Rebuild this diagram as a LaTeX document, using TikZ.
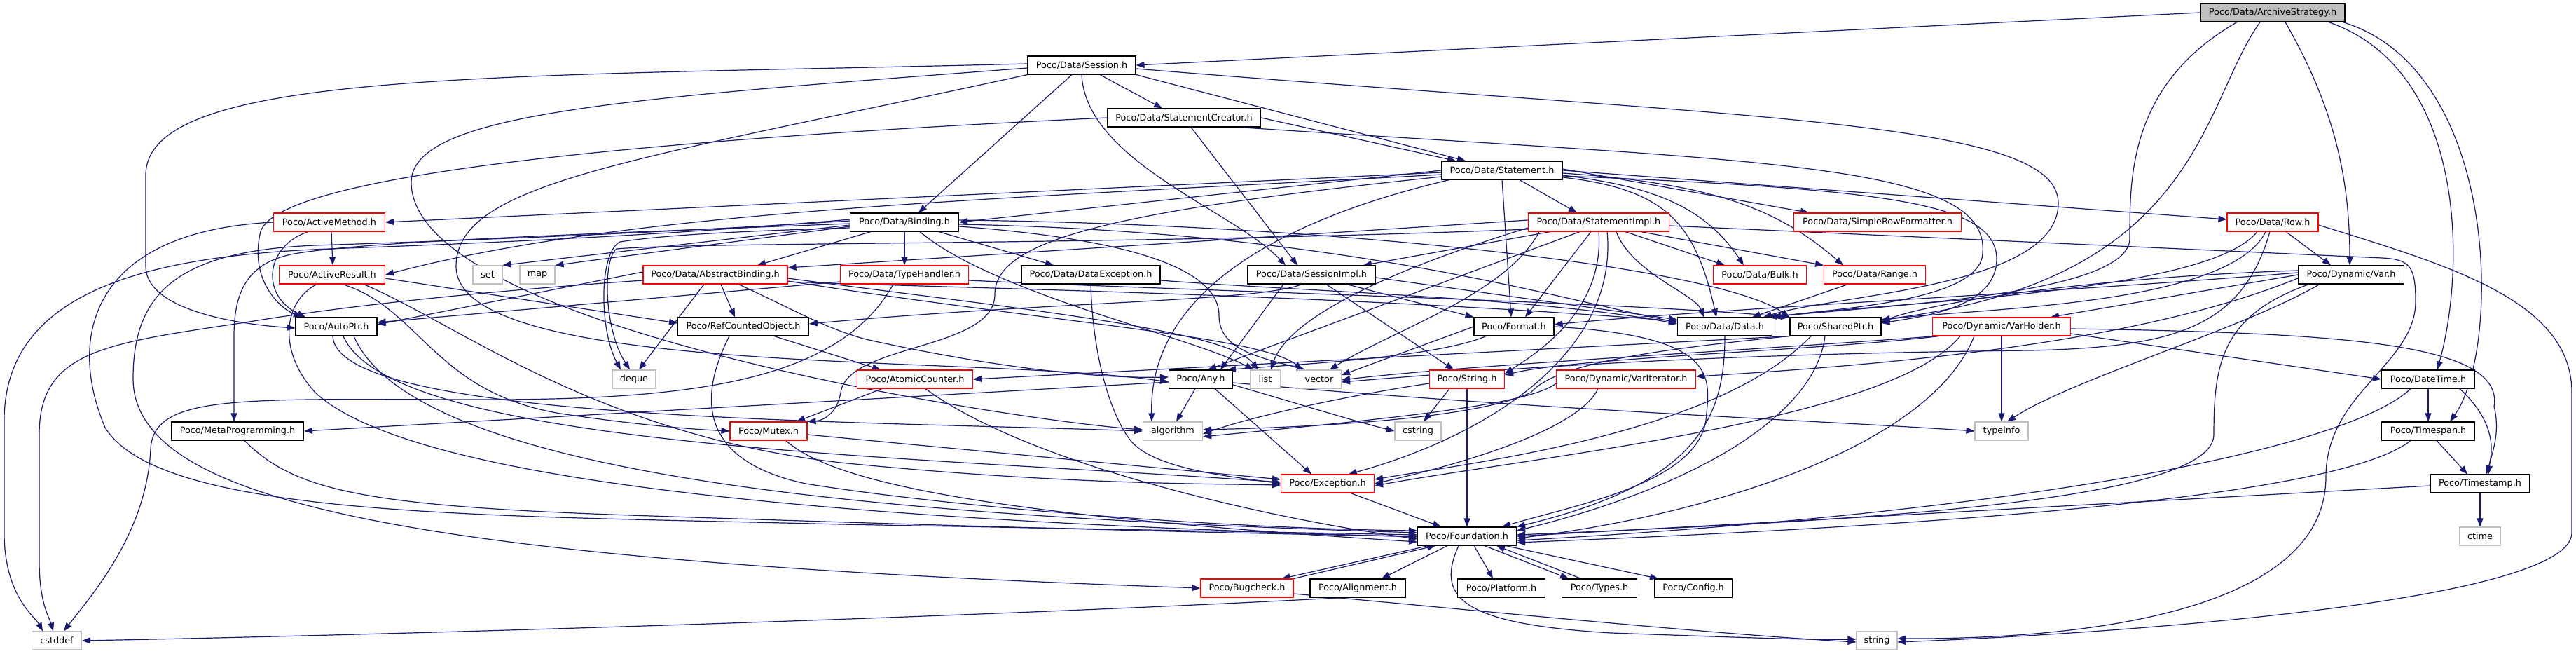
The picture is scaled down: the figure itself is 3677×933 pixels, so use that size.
\documentclass[tikz,border=0pt]{standalone}
\usepackage{fontspec}
\setmainfont{DejaVu Sans}
\usetikzlibrary{arrows.meta}
\definecolor{edgec}{HTML}{191970}
\definecolor{grayb}{HTML}{BFBFBF}
\pgfdeclarelayer{bg}
\pgfdeclarelayer{edges}
\pgfsetlayers{bg,edges,main}
\tikzset{
  nodebase/.style={fill=white, line width=1.1pt, minimum height=26pt, inner sep=0pt, anchor=center,
    font=\fontsize{12.8pt}{15pt}\selectfont},
  bbox/.style={nodebase, draw=black},
  rbox/.style={nodebase, draw=red},
  gbox/.style={nodebase, draw=grayb},
  rootbox/.style={nodebase, draw=black, fill=grayb},
  edg/.style={draw=edgec, line width=1.2pt, -{Triangle[length=12pt,width=9pt]}}
}
\begin{document}
\begin{tikzpicture}[x=1pt,y=1pt]
\begin{pgfonlayer}{bg}
\fill[white] (0,0) rectangle (3677,-933);
\end{pgfonlayer}
\useasboundingbox (0,0) rectangle (3677,-933);
% nodes
\node[rootbox, minimum width=206pt] (as) at (3244,-18) {Poco/Data/ArchiveStrategy.h};
\node[bbox, minimum width=154pt] (session) at (1544,-93) {Poco/Data/Session.h};
\node[bbox, minimum width=219pt] (stcreator) at (1690,-168) {Poco/Data/StatementCreator.h};
\node[bbox, minimum width=172pt] (statement) at (2144,-243) {Poco/Data/Statement.h};
\node[rbox, minimum width=159pt] (actmethod) at (470,-317) {Poco/ActiveMethod.h};
\node[bbox, minimum width=155pt] (binding) at (1291,-317) {Poco/Data/Binding.h};
\node[rbox, minimum width=201pt] (stimpl) at (2282,-317) {Poco/Data/StatementImpl.h};
\node[rbox, minimum width=239pt] (srf) at (2680,-317) {Poco/Data/SimpleRowFormatter.h};
\node[rbox, minimum width=130pt] (row) at (3244,-317) {Poco/Data/Row.h};
\node[rbox, minimum width=151pt] (actresult) at (474,-392) {Poco/ActiveResult.h};
\node[gbox, minimum width=42pt] (set) at (696,-392) {set};
\node[gbox, minimum width=50pt] (map) at (767,-392) {map};
\node[rbox, minimum width=206pt] (absbind) at (1021,-392) {Poco/Data/AbstractBinding.h};
\node[rbox, minimum width=183pt] (typehandler) at (1291,-392) {Poco/Data/TypeHandler.h};
\node[bbox, minimum width=198pt] (dataexc) at (1557,-392) {Poco/Data/DataException.h};
\node[bbox, minimum width=183pt] (sessimpl) at (1872,-392) {Poco/Data/SessionImpl.h};
\node[rbox, minimum width=133pt] (bulk) at (2512,-392) {Poco/Data/Bulk.h};
\node[rbox, minimum width=145pt] (range) at (2676,-392) {Poco/Data/Range.h};
\node[bbox, minimum width=151pt] (var) at (3356,-392) {Poco/Dynamic/Var.h};
\node[bbox, minimum width=116pt] (autoptr) at (480,-466) {Poco/AutoPtr.h};
\node[bbox, minimum width=187pt] (refcounted) at (1061,-466) {Poco/RefCountedObject.h};
\node[bbox, minimum width=114pt] (format) at (2161,-466) {Poco/Format.h};
\node[bbox, minimum width=135pt] (data) at (2462,-466) {Poco/Data/Data.h};
\node[bbox, minimum width=130pt] (sharedptr) at (2620,-466) {Poco/SharedPtr.h};
\node[rbox, minimum width=197pt] (varholder) at (2857,-466) {Poco/Dynamic/VarHolder.h};
\node[gbox, minimum width=62pt] (deque) at (905,-541) {deque};
\node[rbox, minimum width=165pt] (atomic) at (1306,-541) {Poco/AtomicCounter.h};
\node[bbox, minimum width=91pt] (any) at (1714,-541) {Poco/Any.h};
\node[gbox, minimum width=43pt] (list) at (1806,-541) {list};
\node[gbox, minimum width=63pt] (vector) at (1883,-541) {vector};
\node[rbox, minimum width=107pt] (strh) at (2094,-541) {Poco/String.h};
\node[rbox, minimum width=199pt] (variter) at (2321,-541) {Poco/Dynamic/VarIterator.h};
\node[bbox, minimum width=133pt] (datetime) at (3466,-541) {Poco/DateTime.h};
\node[bbox, minimum width=189pt] (meta) at (339,-615) {Poco/MetaProgramming.h};
\node[rbox, minimum width=110pt] (mutex) at (1097,-615) {Poco/Mutex.h};
\node[gbox, minimum width=85pt] (algorithm) at (1674,-615) {algorithm};
\node[gbox, minimum width=66pt] (cstring) at (2024,-615) {cstring};
\node[gbox, minimum width=76pt] (typeinfo) at (2857,-615) {typeinfo};
\node[bbox, minimum width=133pt] (timespan) at (3466,-615) {Poco/Timespan.h};
\node[rbox, minimum width=133pt] (exception) at (1895,-690) {Poco/Exception.h};
\node[bbox, minimum width=142pt] (timestamp) at (3540,-690) {Poco/Timestamp.h};
\node[bbox, minimum width=141pt] (foundation) at (2094,-765) {Poco/Foundation.h};
\node[gbox, minimum width=59pt] (ctime) at (3540,-765) {ctime};
\node[rbox, minimum width=132pt] (bugcheck) at (1780,-839) {Poco/Bugcheck.h};
\node[bbox, minimum width=136pt] (alignment) at (1938,-839) {Poco/Alignment.h};
\node[bbox, minimum width=125pt] (platform) at (2143,-839) {Poco/Platform.h};
\node[bbox, minimum width=107pt] (types) at (2283,-839) {Poco/Types.h};
\node[bbox, minimum width=111pt] (config) at (2417,-839) {Poco/Config.h};
\node[gbox, minimum width=71pt] (cstddef) at (81,-914) {cstddef};
\node[gbox, minimum width=58pt] (stringstd) at (2679,-914) {string};

\begin{pgfonlayer}{edges}
% ArchiveStrategy
\draw[edg] (as.west) -- (session.east);
\draw[edg] ([xshift=-51pt]as.south) .. controls (3040,-120) and (3040,-250) .. (3040,-340) .. controls (3040,-420) and (2700,-435) .. ([xshift=62pt]data.north);
\draw[edg] ([xshift=-18pt]as.south) .. controls (3141,-150) and (3141,-400) .. ([yshift=10pt]sharedptr.east);
\draw[edg] ([xshift=18pt]as.south) .. controls (3330,-150) and (3354,-250) .. ([xshift=-2pt]var.north);
\draw[edg] ([xshift=80pt]as.south) .. controls (3520,-100) and (3520,-380) .. ([xshift=13pt]datetime.north);
\draw[edg] ([xshift=100pt]as.south) .. controls (3570,-100) and (3570,-500) .. ([xshift=31pt]timespan.north);
% Session
\draw[edg] ([yshift=2pt]session.west) .. controls (700,-110) and (208,-100) .. (208,-250) -- (208,-380) .. controls (208,-440) and (330,-462) .. ([yshift=-2pt]autoptr.west);
\draw[edg] ([yshift=-4pt]session.west) .. controls (900,-140) and (587,-160) .. (587,-260) .. controls (587,-470) and (1450,-600) .. ([yshift=2pt]algorithm.west);
\draw[edg] (session.south west) .. controls (900,-230) and (651,-260) .. (651,-380) .. controls (651,-540) and (1400,-505) .. ([yshift=-4pt]any.west);
\draw[edg] ([xshift=-14pt]session.south) -- ([xshift=20pt]binding.north);
\draw[edg] (session.south) .. controls (1550,-230) and (1760,-300) .. ([xshift=-37pt]sessimpl.north);
\draw[edg] ([xshift=26pt]session.south) -- ([xshift=-31pt]stcreator.north);
\draw[edg] (session.south east) -- ([xshift=-52pt]statement.north);
\draw[edg] ([yshift=-5pt]session.east) .. controls (2500,-170) and (2938,-170) .. (2938,-290) .. controls (2938,-410) and (2620,-420) .. ([xshift=55pt]data.north);
% StatementCreator
\draw[edg] (stcreator.west) .. controls (900,-200) and (400,-250) .. (372,-330) .. controls (355,-400) and (400,-440) .. ([xshift=-49pt]autoptr.north);
\draw[edg] ([xshift=10pt]stcreator.south) -- ([xshift=-20pt]sessimpl.north);
\draw[edg] (stcreator.east) -- ([xshift=-66pt]statement.north);
\draw[edg] ([xshift=78pt]stcreator.south) .. controls (2500,-230) and (2840,-230) .. (2830,-360) .. controls (2830,-430) and (2620,-440) .. (data.north east);
% Statement
\draw[edg] (statement.west) -- (binding.east);
\draw[edg] ([yshift=-3pt]statement.west) -- (actmethod.east);
\draw[edg] ([yshift=-6pt]statement.west) .. controls (1400,-285) and (900,-300) .. (actresult.east);
\draw[edg] ([yshift=-9pt]statement.west) .. controls (1600,-300) and (1420,-340) .. (1420,-420) .. controls (1420,-500) and (1210,-490) .. (1200,-560) .. controls (1195,-590) and (1175,-600) .. (mutex.north east);
\draw[edg] ([xshift=-75pt]statement.south) .. controls (1800,-320) and (1640,-430) .. ([xshift=-30pt]algorithm.north);
\draw[edg] (statement.south) -- ([xshift=-4pt]format.north);
\draw[edg] ([xshift=25pt]statement.south) -- ([xshift=-31pt]stimpl.north);
\draw[edg] ([yshift=2pt]statement.east) -- ([xshift=-98pt]srf.north);
\draw[edg] (statement.east) -- ([yshift=4pt]row.west);
\draw[edg] ([yshift=-4pt]statement.east) .. controls (2450,-262) and (2540,-300) .. ([xshift=-45pt]range.north);
\draw[edg] ([yshift=-7pt]statement.east) .. controls (2350,-265) and (2430,-290) .. ([xshift=-23pt]bulk.north);
\draw[edg] ([yshift=-10pt]statement.east) .. controls (2380,-270) and (2420,-320) .. ([xshift=-12pt]data.north);
\draw[edg] ([yshift=-8pt]statement.east) .. controls (2700,-270) and (2850,-290) .. (2850,-370) .. controls (2850,-440) and (2740,-452) .. ([yshift=5pt]sharedptr.east);
% ActiveMethod
\draw[edg] ([xshift=3pt]actmethod.south) -- ([xshift=1pt]actresult.north);
\draw[edg] ([xshift=-30pt]actmethod.south) .. controls (380,-350) and (370,-420) .. ([xshift=-44pt]autoptr.north);
\draw[edg] (actmethod.west) .. controls (130,-330) and (95,-480) .. (150,-610) .. controls (230,-740) and (700,-735) .. (1200,-748) -- ([yshift=2pt]foundation.west);
% ActiveResult
\draw[edg] ([xshift=-22pt]actresult.south) .. controls (405,-430) and (395,-500) .. (450,-560) .. controls (600,-700) and (1300,-745) .. ([yshift=-1pt]foundation.west);
\draw[edg] ([xshift=15pt]actresult.south) .. controls (600,-440) and (620,-560) .. (800,-590) .. controls (900,-605) and (980,-612) .. (mutex.west);
\draw[edg] ([xshift=45pt]actresult.south) .. controls (650,-460) and (850,-620) .. (1200,-660) .. controls (1500,-690) and (1700,-690) .. ([yshift=-2pt]exception.west);
\draw[edg] ([yshift=-5pt]actresult.east) -- ([yshift=5pt]refcounted.west);
% Binding
\draw[edg] ([xshift=-48pt]binding.south) -- ([xshift=60pt]absbind.north);
\draw[edg] (binding.south) -- (typehandler.north);
\draw[edg] ([xshift=49pt]binding.south) -- ([xshift=-53pt]dataexc.north);
\draw[edg] ([xshift=22pt]binding.south) .. controls (1420,-420) and (1700,-480) .. ([xshift=-17pt]list.north);
\draw[edg] ([yshift=-6pt]binding.east) .. controls (1600,-340) and (1740,-380) .. (1740,-450) .. controls (1740,-500) and (1800,-510) .. ([xshift=-20pt]vector.north);
\draw[edg] ([yshift=-3pt]binding.east) .. controls (1900,-330) and (2200,-420) .. ([yshift=6pt]data.west);
\draw[edg] ([yshift=3pt]binding.east) .. controls (1900,-320) and (2450,-380) .. (sharedptr.north west);
\draw[edg] ([yshift=-2pt]binding.west) .. controls (800,-335) and (520,-345) .. (420,-362) .. controls (350,-375) and (334,-420) .. (334,-480) -- ([xshift=-5pt]meta.north);
\draw[edg] ([yshift=2pt]binding.west) .. controls (900,-335) and (600,-345) .. (450,-350) .. controls (250,-358) and (190,-420) .. (190,-540) .. controls (190,-720) and (600,-800) .. (bugcheck.west);
\draw[edg] ([yshift=4pt]binding.west) .. controls (900,-340) and (600,-350) .. (470,-355) .. controls (200,-365) and (6,-420) .. (6,-600) -- (6,-760) .. controls (6,-850) and (50,-880) .. ([xshift=-20pt]cstddef.north);
\draw[edg] ([yshift=-8pt]binding.west) .. controls (1050,-330) and (950,-335) .. (885,-345) .. controls (855,-360) and (855,-470) .. ([xshift=-19pt]deque.north);
\draw[edg] ([yshift=-4pt]binding.west) -- (set.north east);
\draw[edg] ([yshift=-6pt]binding.west) -- (map.north east);
% StatementImpl
\draw[edg] ([xshift=-69pt]stimpl.south) -- ([xshift=74pt]sessimpl.north);
\draw[edg] ([xshift=-27pt]stimpl.south) -- ([xshift=10pt]any.north);
\draw[edg] ([xshift=-11pt]stimpl.south) -- ([xshift=16pt]format.north);
\draw[edg] (stimpl.south) .. controls (2290,-440) and (2200,-500) .. ([yshift=8pt]strh.east);
\draw[edg] ([xshift=12pt]stimpl.south) .. controls (2310,-500) and (2130,-620) .. ([xshift=30pt]exception.north);
\draw[edg] ([xshift=25pt]stimpl.south) .. controls (2330,-390) and (2420,-420) .. ([xshift=-30pt]data.north);
\draw[edg] ([xshift=38pt]stimpl.south) -- ([xshift=-50pt]bulk.north);
\draw[edg] ([xshift=60pt]stimpl.south) -- ([xshift=-73pt]range.north);
\draw[edg] ([yshift=3pt]stimpl.west) -- ([yshift=10pt]absbind.east);
\draw[edg] ([yshift=-10pt]stimpl.west) .. controls (1600,-350) and (1000,-345) .. (880,-355) .. controls (860,-370) and (862,-470) .. ([xshift=-6pt]deque.north);
\draw[edg] ([yshift=-8pt]stimpl.west) .. controls (2000,-380) and (1840,-450) .. ([xshift=8pt]list.north);
\draw[edg] ([xshift=-85pt]stimpl.south) .. controls (2150,-420) and (1990,-470) .. ([xshift=15pt]vector.north);
\draw[edg] ([yshift=-5pt]stimpl.east) -- (3400,-368) .. controls (3440,-370) and (3448,-380) .. (3448,-430) .. controls (3448,-520) and (3320,-560) .. (3320,-680) .. controls (3320,-880) and (2950,-912) .. ([yshift=3pt]stringstd.east);
% Row
\draw[edg] ([xshift=19pt]row.south) -- ([xshift=-29pt]var.north);
\draw[edg] ([xshift=-22pt]row.south) .. controls (3150,-420) and (2700,-430) .. (data.north east);
\draw[edg] ([xshift=-10pt]row.south) .. controls (3180,-440) and (2800,-440) .. ([yshift=9pt]sharedptr.east);
\draw[edg] ([xshift=-4pt]row.south) .. controls (3200,-470) and (3100,-495) .. (2900,-500) .. controls (2400,-505) and (2100,-530) .. ([yshift=-4pt]vector.east);
\draw[edg] ([yshift=-4pt]row.east) .. controls (3500,-380) and (3671,-430) .. (3671,-560) -- (3671,-760) .. controls (3671,-860) and (3000,-905) .. ([yshift=-2pt]stringstd.east);
% AbstractBinding
\draw[edg] ([xshift=-16pt]absbind.south) -- ([xshift=7pt]deque.north);
\draw[edg] ([xshift=8pt]absbind.south) -- ([xshift=-12pt]refcounted.north);
\draw[edg] ([xshift=33pt]absbind.south) .. controls (1130,-440) and (1180,-470) .. (1240,-485) .. controls (1400,-520) and (1550,-540) .. ([yshift=3pt]any.west);
\draw[edg] ([yshift=4pt]absbind.west) -- ([yshift=3pt]autoptr.east);
\draw[edg] ([yshift=-5pt]absbind.east) .. controls (1450,-440) and (1750,-470) .. ([xshift=-10pt]list.north);
\draw[edg] ([yshift=-9pt]absbind.east) .. controls (1500,-460) and (1800,-480) .. ([xshift=-24pt]vector.north);
\draw[edg] ([yshift=-10pt]absbind.east) .. controls (1400,-412) and (1900,-420) .. ([yshift=8pt]data.west);
\draw[edg] ([yshift=-8pt]absbind.west) .. controls (700,-415) and (500,-435) .. (350,-460) .. controls (150,-490) and (56,-500) .. (56,-620) -- (56,-800) .. controls (56,-860) and (70,-880) .. ([xshift=-5pt]cstddef.north);
% TypeHandler
\draw[edg] ([yshift=-10pt]typehandler.west) -- ([yshift=6pt]autoptr.east);
\draw[edg] ([yshift=-8pt]typehandler.east) .. controls (1700,-415) and (2300,-430) .. (sharedptr.north west);
\draw[edg] ([xshift=-16pt]typehandler.south) .. controls (1200,-540) and (1000,-570) .. (700,-570) .. controls (350,-570) and (220,-560) .. (215,-640) .. controls (210,-760) and (130,-850) .. ([xshift=10pt]cstddef.north);
% DataException
\draw[edg] ([yshift=-8pt]dataexc.east) .. controls (1850,-415) and (2200,-425) .. ([yshift=4pt]data.west);
\draw[edg] (dataexc.south) .. controls (1560,-520) and (1590,-600) .. (1615,-630) .. controls (1650,-670) and (1760,-680) .. (exception.west);
% SessionImpl
\draw[edg] ([yshift=-4pt]sessimpl.east) -- ([yshift=10pt]data.west);
\draw[edg] ([xshift=-14pt]sessimpl.south) .. controls (1800,-430) and (1500,-430) .. ([yshift=4pt]refcounted.east);
\draw[edg] ([xshift=21pt]sessimpl.south) -- ([xshift=-19pt]strh.north);
\draw[edg] ([xshift=50pt]sessimpl.south) -- (format.north west);
\draw[edg] ([xshift=-40pt]sessimpl.south) -- ([xshift=28pt]any.north);
% Range
\draw[edg] ([xshift=-38pt]range.south) -- ([xshift=39pt]data.north);
% Var
\draw[edg] ([yshift=6pt]var.west) .. controls (3000,-395) and (2760,-430) .. ([yshift=7pt]sharedptr.east);
\draw[edg] ([yshift=3pt]var.west) .. controls (2900,-420) and (2450,-440) .. ([yshift=3pt]format.east);
\draw[edg] (var.west) -- ([xshift=70pt]varholder.north);
\draw[edg] ([yshift=-5pt]var.west) .. controls (3050,-490) and (2700,-520) .. ([yshift=4pt]variter.east);
\draw[edg] ([xshift=-45pt]var.south) .. controls (3200,-470) and (2960,-540) .. ([xshift=8pt]typeinfo.north);
\draw[edg] ([xshift=-60pt]var.south) .. controls (3170,-450) and (3160,-520) .. (3160,-620) .. controls (3160,-720) and (2600,-745) .. ([yshift=2pt]foundation.east);
% AutoPtr
\draw[edg] ([xshift=-5pt]autoptr.south) .. controls (480,-600) and (1200,-600) .. (algorithm.west);
\draw[edg] ([xshift=10pt]autoptr.south) .. controls (560,-640) and (1300,-650) .. ([yshift=2pt]exception.west);
\draw[edg] ([xshift=25pt]autoptr.south) .. controls (600,-700) and (1400,-740) .. ([yshift=5pt]foundation.west);
% RefCountedObject
\draw[edg] ([xshift=44pt]refcounted.south) -- ([xshift=-49pt]atomic.north);
\draw[edg] ([xshift=-20pt]refcounted.south) .. controls (990,-580) and (1010,-660) .. (1150,-690) .. controls (1400,-730) and (1800,-755) .. ([yshift=8pt]foundation.west);
% Format
\draw[edg] (format.west) -- ([yshift=6pt]vector.east);
\draw[edg] ([xshift=-40pt]format.south) .. controls (2050,-510) and (1850,-520) .. ([xshift=38pt]any.north);
\draw[edg] (format.east) .. controls (2460,-480) and (2440,-540) .. (2435,-600) .. controls (2420,-690) and (2250,-720) .. ([xshift=50pt]foundation.north);
% Data
\draw[edg] (data.south) .. controls (2462,-600) and (2420,-690) .. (foundation.north east);
% SharedPtr
\draw[edg] ([xshift=-15pt]sharedptr.south) .. controls (2590,-600) and (2400,-700) .. ([yshift=8pt]foundation.east);
\draw[edg] (sharedptr.south west) -- (atomic.east);
\draw[edg] ([xshift=-35pt]sharedptr.south) .. controls (2450,-620) and (2100,-660) .. ([yshift=6pt]exception.east);
\draw[edg] (sharedptr.south west) .. controls (2350,-500) and (2220,-520) .. (2185,-560) .. controls (2100,-600) and (1850,-610) .. ([yshift=2pt]algorithm.east);
% VarHolder
\draw[edg] (varholder.south) -- (typeinfo.north);
\draw[edg] ([yshift=-10pt]varholder.east) -- (datetime.west);
\draw[edg] ([yshift=-3pt]varholder.east) .. controls (3350,-475) and (3575,-490) .. (3560,-580) .. controls (3570,-620) and (3555,-650) .. ([xshift=12pt]timestamp.north);
\draw[edg] ([xshift=10pt]varholder.south west) .. controls (2600,-500) and (2250,-510) .. ([yshift=6pt]strh.east);
\draw[edg] ([xshift=5pt]varholder.south west) .. controls (2500,-500) and (2100,-520) .. ([yshift=-1pt]vector.east);
\draw[edg] ([xshift=40pt]varholder.south west) .. controls (2700,-600) and (2200,-650) .. ([yshift=-3pt]exception.east);
\draw[edg] ([xshift=60pt]varholder.south west) .. controls (2750,-650) and (2400,-740) .. ([yshift=-3pt]foundation.east);
% AtomicCounter
\draw[edg] ([xshift=-47pt]atomic.south) -- ([xshift=40pt]mutex.north);
\draw[edg] ([xshift=15pt]atomic.south) .. controls (1450,-650) and (1750,-730) .. ([yshift=-4pt]foundation.west);
% Any
\draw[edg] ([xshift=-8pt]any.south) -- ([xshift=5pt]algorithm.north);
\draw[edg] ([yshift=-4pt]any.west) -- (meta.east);
\draw[edg] ([yshift=-5pt]any.east) .. controls (2200,-585) and (2600,-600) .. (typeinfo.west);
\draw[edg] ([yshift=-8pt]any.east) .. controls (1850,-575) and (1930,-600) .. (cstring.west);
\draw[edg] ([xshift=20pt]any.south) -- ([xshift=-23pt]exception.north);
% String
\draw[edg] ([xshift=-25pt]strh.south) -- ([xshift=8pt]cstring.north);
\draw[edg] (strh.south) -- (foundation.north);
\draw[edg] ([yshift=-6pt]strh.west) .. controls (1950,-560) and (1800,-590) .. ([yshift=-4pt]algorithm.east);
% VarIterator
\draw[edg] ([xshift=-40pt]variter.south) .. controls (2250,-620) and (2050,-670) .. (exception.east);
\draw[edg] ([yshift=-6pt]variter.west) .. controls (2180,-580) and (1950,-600) .. ([yshift=-8pt]algorithm.east);
% DateTime
\draw[edg] (datetime.south) -- (timespan.north);
\draw[edg] ([xshift=45pt]datetime.south) .. controls (3560,-600) and (3560,-640) .. ([xshift=9pt]timestamp.north);
\draw[edg] ([xshift=-25pt]datetime.south) .. controls (3350,-640) and (2900,-730) .. ([yshift=-6pt]foundation.east);
% MetaProgramming
\draw[edg] ([xshift=10pt]meta.south) .. controls (420,-700) and (520,-722) .. (900,-735) .. controls (1400,-752) and (1800,-762) .. (foundation.west);
% Mutex
\draw[edg] ([xshift=25pt]mutex.south) .. controls (1200,-700) and (1500,-740) .. ([yshift=-8pt]foundation.west);
\draw[edg] ([yshift=-5pt]mutex.east) -- ([yshift=6pt]exception.west);
% Timespan
\draw[edg] ([xshift=12pt]timespan.south) -- ([xshift=-18pt]timestamp.north);
\draw[edg] ([xshift=-25pt]timespan.south) .. controls (3350,-700) and (2900,-745) .. ([yshift=-9pt]foundation.east);
% Exception
\draw[edg] ([xshift=33pt]exception.south) -- ([xshift=-37pt]foundation.north);
% Timestamp
\draw[edg] (timestamp.south) -- (ctime.north);
\draw[edg] ([yshift=-3pt]timestamp.west) -- (foundation.east);
% Foundation
\draw[edg] ([xshift=-55pt]foundation.south) -- ([xshift=-17pt]bugcheck.north east);
\draw[edg] (bugcheck.north east) -- ([xshift=-45pt]foundation.south);
\draw[edg] ([xshift=-28pt]foundation.south) -- ([xshift=34pt]alignment.north);
\draw[edg] ([xshift=10pt]foundation.south) -- ([xshift=-12pt]platform.north);
\draw[edg] ([xshift=25pt]foundation.south) -- ([xshift=-44pt]types.north);
\draw[edg] ([xshift=-26pt]types.north) -- ([xshift=42pt]foundation.south);
\draw[edg] ([xshift=55pt]foundation.south) -- ([xshift=-50pt]config.north);
\draw[edg] ([xshift=-12pt]foundation.south) .. controls (2050,-850) and (2080,-890) .. (2300,-903) .. controls (2500,-910) and (2580,-913) .. ([yshift=2pt]stringstd.west);
\draw[edg] ([yshift=-8pt]bugcheck.east) .. controls (2100,-870) and (2450,-905) .. ([yshift=-2pt]stringstd.west);
% Alignment
\draw[edg] ([xshift=-20pt]alignment.south) .. controls (1400,-880) and (600,-905) .. (cstddef.east);
\end{pgfonlayer}
\end{tikzpicture}
\end{document}
